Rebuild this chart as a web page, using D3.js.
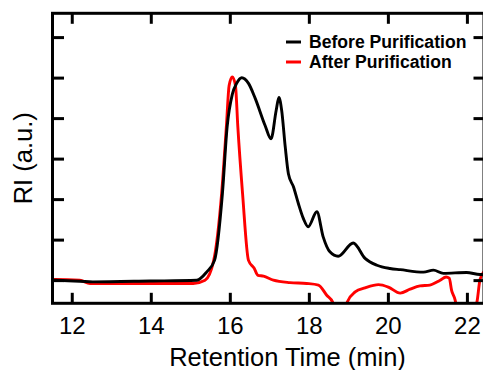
<!DOCTYPE html>
<html>
<head>
<meta charset="utf-8">
<script src="https://cdn.jsdelivr.net/npm/d3@7"></script>
<style>
  body { margin: 0; background: #fff; }
  svg { display: block; font-family: "Liberation Sans", Arial, sans-serif; }
</style>
</head>
<body>
<div class="gpc-chart"></div>
<script>
// retention time (min) / RI (a.u.)
const beforeTime = [11.5, 11.56, 12.52, 13.97, 15.15, 15.4, 15.6, 15.8, 15.92, 16.05, 16.16, 16.29, 16.46, 16.63, 16.88, 17.03, 17.16, 17.23, 17.3, 17.39, 17.47, 17.6, 17.72, 17.85, 17.97, 18.19, 18.35, 18.52, 18.73, 19.11, 19.41, 19.71, 20.04, 20.3, 20.89, 21.14, 21.39, 21.98, 22.32, 22.45];
const beforeRI = [0.01, 0.01, -0.03, -0.01, 0.01, 0.21, 0.5, 2.15, 3.8, 4.6, 4.87, 5.01, 4.87, 4.5, 3.83, 3.5, 4.2, 4.52, 4.2, 3.3, 2.64, 2.31, 1.91, 1.53, 1.33, 1.7, 1.08, 0.71, 0.6, 0.93, 0.55, 0.38, 0.3, 0.27, 0.21, 0.26, 0.18, 0.2, 0.15, 0.15];

const afterTime = [11.5, 11.56, 12.19, 12.45, 13.97, 15.06, 15.36, 15.58, 15.78, 15.9, 15.97, 16.05, 16.13, 16.19, 16.31, 16.46, 16.6, 16.7, 16.84, 17.09, 17.51, 17.93, 18.23, 18.44, 18.59, 18.78, 18.96, 19.16, 19.41, 19.75, 20.0, 20.3, 20.55, 20.8, 21.05, 21.31, 21.46, 21.54, 21.6, 21.69, 21.76, 21.97, 22.17, 22.25, 22.32, 22.45];
const afterRI = [0.03, 0.03, 0.01, -0.07, -0.07, -0.07, 0.01, 0.5, 2.15, 3.8, 4.82, 5.03, 4.82, 3.8, 2.15, 0.5, 0.31, 0.13, 0.11, 0.01, -0.05, -0.07, -0.11, -0.36, -0.53, -1.2, -0.53, -0.28, -0.18, -0.1, -0.16, -0.31, -0.21, -0.13, -0.11, 0.01, 0.09, 0.06, -0.24, -0.48, -0.85, -1.3, -0.85, -0.48, 0.03, 0.25];

const xTicks = [12, 14, 16, 18, 20, 22];
const yTicks = [0, 1, 2, 3, 4, 5, 6];
const seriesNames = ["Before Purification", "After Purification"];
const seriesColors = ["#000000", "#ff0000"];

const W = 483, H = 370;
const m = { left: 52.5, right: 484, top: 13.3, bottom: 303.3 };

const svg = d3.select(".gpc-chart")
  .append("svg")
  .attr("width", W)
  .attr("height", H);

const x = d3.scaleLinear().domain([11.5, 22.42]).range([m.left, m.right]);
const y = d3.scaleLinear().domain([-0.56, 6.6]).range([m.bottom, m.top]);

svg.append("clipPath")
  .attr("id", "plot-clip")
  .append("rect")
  .attr("x", m.left)
  .attr("y", m.top)
  .attr("width", m.right - m.left)
  .attr("height", m.bottom - m.top);

const line = d3.line()
  .x((d) => x(d[0]))
  .y((d) => y(d[1]))
  .curve(d3.curveMonotoneX);

const traces = [
  d3.zip(beforeTime, beforeRI),
  d3.zip(afterTime, afterRI),
];

// red goes under the black one
const plot = svg.append("g").attr("clip-path", "url(#plot-clip)");
[1, 0].forEach((k) => {
  plot.append("path")
    .attr("d", line(traces[k]))
    .attr("fill", "none")
    .attr("stroke", seriesColors[k])
    .attr("stroke-width", 2.9)
    .attr("stroke-linejoin", "round");
});

// frame + inward ticks on all four sides
const axisW = 3;
const tickLen = 10.5;

svg.append("rect")
  .attr("x", m.left)
  .attr("y", m.top)
  .attr("width", m.right - m.left)
  .attr("height", m.bottom - m.top)
  .attr("fill", "none")
  .attr("stroke", "#000")
  .attr("stroke-width", axisW);

const ticks = svg.append("g").attr("stroke", "#000").attr("stroke-width", axisW);

xTicks.forEach((t) => {
  ticks.append("line")
    .attr("x1", x(t)).attr("x2", x(t))
    .attr("y1", m.bottom).attr("y2", m.bottom - tickLen);
  ticks.append("line")
    .attr("x1", x(t)).attr("x2", x(t))
    .attr("y1", m.top).attr("y2", m.top + tickLen);
});

yTicks.forEach((t) => {
  ticks.append("line")
    .attr("x1", m.left).attr("x2", m.left + tickLen + 1)
    .attr("y1", y(t)).attr("y2", y(t));
  ticks.append("line")
    .attr("x1", m.right).attr("x2", m.right - tickLen)
    .attr("y1", y(t)).attr("y2", y(t));
});

svg.append("g")
  .selectAll("text")
  .data(xTicks)
  .enter()
  .append("text")
  .attr("x", (d) => x(d))
  .attr("y", 334)
  .attr("text-anchor", "middle")
  .style("font-size", "24px")
  .text((d) => d);

// axis titles
svg.append("text")
  .attr("x", 287.5)
  .attr("y", 366)
  .attr("text-anchor", "middle")
  .style("font-size", "25.5px")
  .text("Retention Time (min)");

svg.append("text")
  .attr("transform", "translate(32," + (m.top + m.bottom) / 2 + ") rotate(-90)")
  .attr("text-anchor", "middle")
  .style("font-size", "25.5px")
  .text("RI (a.u.)");

// legend
const legend = svg.append("g").attr("transform", "translate(286,42)");
seriesNames.forEach((name, i) => {
  legend.append("line")
    .attr("x1", 0).attr("x2", 15)
    .attr("y1", i * 20).attr("y2", i * 20)
    .attr("stroke", seriesColors[i])
    .attr("stroke-width", 3);
  legend.append("text")
    .attr("x", 23)
    .attr("y", i * 20 + 5.5)
    .style("font-size", "17.6px")
    .style("font-weight", "bold")
    .text(name);
});
</script>
</body>
</html>
